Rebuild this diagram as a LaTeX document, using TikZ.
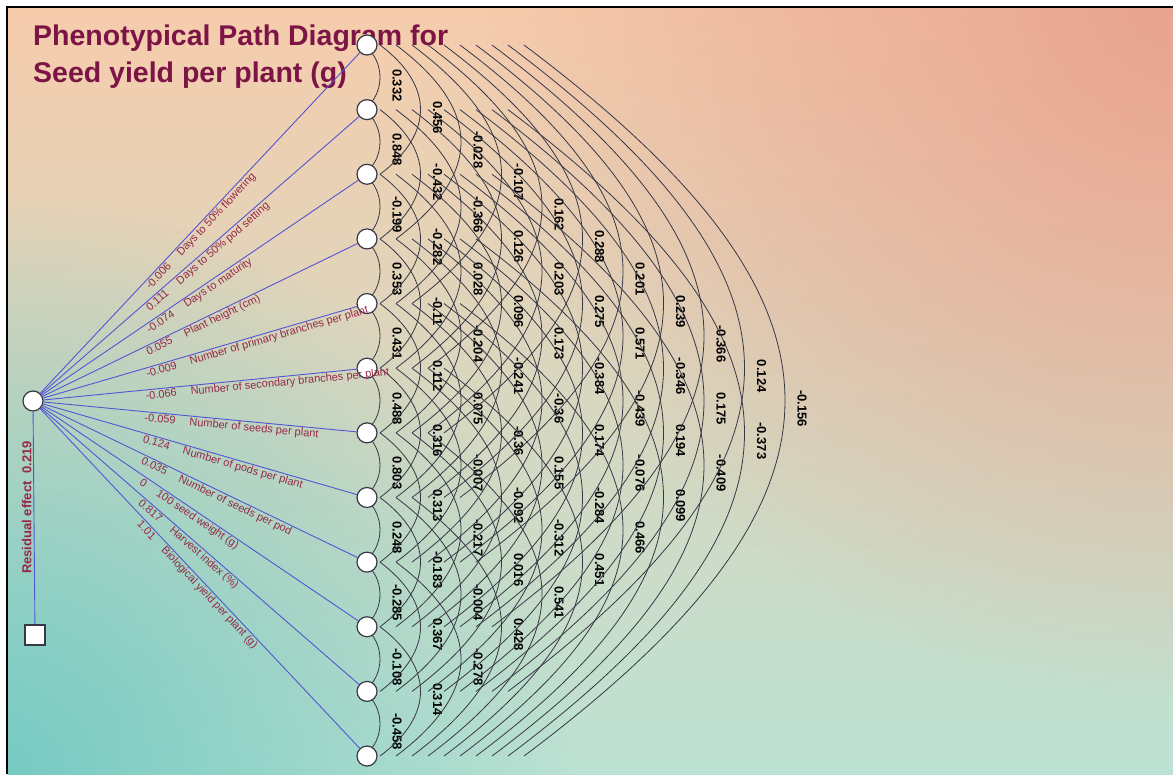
\documentclass[tikz,border=0pt]{standalone}
\usepackage{fontspec}
\setmainfont{Liberation Sans}
\usetikzlibrary{backgrounds,fadings}
\definecolor{titlecolor}{RGB}{125,20,70}
\definecolor{labelcolor}{RGB}{150,40,72}
\definecolor{pathcolor}{RGB}{85,85,210}
\definecolor{arccolor}{RGB}{55,55,70}
\definecolor{bgtop}{RGB}{246,204,172}
\definecolor{bgmid}{RGB}{248,232,204}
\definecolor{bgbot}{RGB}{188,226,211}
\definecolor{bgsalmon}{RGB}{232,164,144}
\definecolor{bgteal}{RGB}{118,202,194}
\tikzfading[name=glow, inner color=transparent!0, outer color=transparent!100]
\tikzset{
    var/.style = {circle, draw=arccolor, fill=white, line width=1.2pt, minimum size=20pt, inner sep=0pt},
    resid/.style = {rectangle, draw=arccolor, fill=white, line width=1.2pt, minimum size=20pt, inner sep=0pt},
    path line/.style = {pathcolor, line width=0.9pt},
    corr arc/.style = {arccolor, line width=0.8pt},
    path text/.style = {labelcolor, font=\fontsize{11}{13}\selectfont, inner sep=1pt},
    corr text/.style = {font=\fontsize{13}{15}\selectfont\bfseries, rotate=-90, inner sep=0pt}
}

\begin{document}
\begin{tikzpicture}[x=1pt, y=-1pt]
        \useasboundingbox (0,0) rectangle (1173,774);
        % draw source, residual and variable nodes
        \node[var] (src) at (33,401) {};
        \node[resid] (res) at (35,635) {};
        \foreach \i in {1,...,12}
            \node[var] (v\i) at (367, {45+64.64*(\i-1)}) {};
        \begin{scope}[on background layer]
            % draw background
            \fill[white] (0,0) rectangle (1173,774);
            \begin{scope}
                \clip (7.5,7.5) rectangle (1173,774);
                \shade[top color=bgtop, middle color=bgmid, bottom color=bgbot] (7.5,7.5) rectangle (1173,774);
                \fill[bgsalmon, path fading=glow] (1173,0) circle (700);
                \fill[bgteal, path fading=glow] (0,774) circle (580);
            \end{scope}
            \draw[line width=2pt] (6.5,774) -- (6.5,6.5) -- (1173,6.5);
            % draw title
            \node[titlecolor, font=\fontsize{28.5}{37}\selectfont\bfseries, align=left, anchor=north west, inner sep=0pt] (title) at (33,25)
                {Phenotypical Path Diagram for\\Seed yield per plant (g)};
            % draw correlation arcs and their values
            \foreach \kk/\vals in {
                1/{0.332,0.848,-0.199,0.353,0.431,0.488,0.803,0.248,-0.285,-0.108,-0.458},
                2/{0.456,-0.432,-0.282,-0.11,0.112,0.316,0.313,-0.183,0.367,0.314},
                3/{-0.028,-0.366,0.028,-0.204,0.075,-0.007,-0.217,-0.004,-0.278},
                4/{-0.107,0.126,0.096,-0.241,-0.36,-0.092,0.016,0.428},
                5/{0.162,0.203,0.173,-0.36,0.155,-0.312,0.541},
                6/{0.288,0.275,-0.384,0.174,-0.284,0.451},
                7/{0.201,0.571,-0.439,-0.076,0.466},
                8/{0.239,-0.346,0.194,0.099},
                9/{-0.366,0.175,-0.409},
                10/{0.124,-0.373},
                11/{-0.156}}
            {
                \foreach \rv [count=\i] in \vals {
                    \pgfmathtruncatemacro\j{\i+\kk}
                    \pgfmathsetmacro\off{16*(\kk-1)-3}
                    \pgfmathsetmacro\dy{16+24.5*(\kk-1)}
                    \pgfmathsetmacro\dx{\dy/0.75}
                    \pgfmathsetmacro\lx{397+40.5*(\kk-1)}
                    \pgfmathsetmacro\ly{45+64.64*((\i+\j)/2-1)+8}
                    \draw[corr arc] ([xshift=\off pt]v\i.center) .. controls +(\dx,\dy) and +(\dx,-\dy) .. ([xshift=\off pt]v\j.center);
                    \node[corr text] (r\i-\j) at (\lx,\ly) {\rv};
                }
            }
        \end{scope}
        % draw direct paths
        \foreach \i/\val/\name in {1/-0.006/Days to 50\% flowering, 2/0.111/Days to 50\% pod setting,
                3/-0.074/Days to maturity, 4/0.055/Plant height (cm),
                5/-0.009/Number of primary branches per plant, 6/-0.066/Number of secondary branches per plant,
                7/-0.059/Number of seeds per plant, 8/0.124/Number of pods per plant,
                9/0.035/Number of seeds per pod, 10/0/100 seed weight (g),
                11/0.817/Harvest index (\%), 12/1.01/Biological yield per plant (g)}
            \draw[path line] (src) -- node[path text, pos=0.32, sloped, anchor=north west] {\val\hspace{14pt}\name} (v\i);
        % draw residual path
        \draw[path line] (src) -- node[pos=0.45, rotate=90, anchor=south, inner sep=2pt, text=labelcolor,
            font=\fontsize{13}{15}\selectfont\bfseries] (restext) {Residual effect\hspace{8pt}0.219} (res);
\end{tikzpicture}
\end{document}
